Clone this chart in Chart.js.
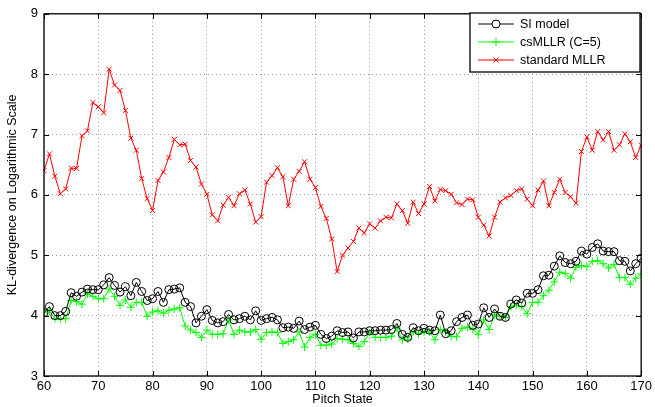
<!DOCTYPE html>
<html>
<head>
<meta charset="utf-8">
<script src="https://cdn.jsdelivr.net/npm/chart.js@4/dist/chart.umd.min.js"></script>
<style>
  html, body { margin: 0; padding: 0; background: #fff; }
  canvas { display: block; }
</style>
</head>
<body>
<canvas id="klChart" width="655" height="407"></canvas>
<script>
// pitch states on the x axis
const pitchStates = [
  60, 61, 62, 63, 64, 65, 66, 67, 68, 69,
  70, 71, 72, 73, 74, 75, 76, 77, 78, 79,
  80, 81, 82, 83, 84, 85, 86, 87, 88, 89,
  90, 91, 92, 93, 94, 95, 96, 97, 98, 99,
  100, 101, 102, 103, 104, 105, 106, 107, 108, 109,
  110, 111, 112, 113, 114, 115, 116, 117, 118, 119,
  120, 121, 122, 123, 124, 125, 126, 127, 128, 129,
  130, 131, 132, 133, 134, 135, 136, 137, 138, 139,
  140, 141, 142, 143, 144, 145, 146, 147, 148, 149,
  150, 151, 152, 153, 154, 155, 156, 157, 158, 159,
  160, 161, 162, 163, 164, 165, 166, 167, 168, 169,
  170
];

const siModel = [
  4.05, 4.15, 4.00, 4.00, 4.07, 4.38, 4.32, 4.39, 4.44, 4.43,
  4.43, 4.51, 4.63, 4.50, 4.39, 4.48, 4.33, 4.55, 4.40, 4.25,
  4.28, 4.40, 4.22, 4.43, 4.44, 4.46, 4.22, 4.15, 3.88, 3.99,
  4.10, 3.92, 3.88, 3.90, 4.02, 3.93, 3.95, 3.99, 3.93, 4.08,
  3.92, 3.95, 3.97, 3.93, 3.80, 3.81, 3.79, 3.91, 3.77, 3.81,
  3.84, 3.69, 3.62, 3.66, 3.75, 3.72, 3.73, 3.63, 3.73, 3.73,
  3.75, 3.75, 3.76, 3.76, 3.77, 3.87, 3.69, 3.64, 3.80, 3.75,
  3.79, 3.76, 3.75, 4.01, 3.70, 3.75, 3.90, 3.97, 4.01, 3.84,
  3.86, 4.13, 3.97, 4.11, 3.99, 3.97, 4.19, 4.26, 4.21, 4.37,
  4.37, 4.43, 4.66, 4.67, 4.82, 4.99, 4.88, 4.86, 4.90, 5.07,
  5.02, 5.13, 5.19, 5.07, 5.06, 5.06, 4.91, 4.90, 4.74, 4.86,
  4.95
];

const csMLLR = [
  4.05, 4.08, 3.95, 3.95, 3.95, 4.25, 4.23, 4.19, 4.36, 4.32,
  4.28, 4.28, 4.44, 4.32, 4.17, 4.26, 4.14, 4.22, 4.22, 3.99,
  4.06, 4.08, 4.04, 4.09, 4.11, 4.13, 3.83, 3.76, 3.72, 3.64,
  3.76, 3.69, 3.69, 3.70, 3.93, 3.69, 3.76, 3.73, 3.73, 3.77,
  3.61, 3.72, 3.73, 3.72, 3.54, 3.57, 3.60, 3.73, 3.48, 3.64,
  3.69, 3.51, 3.51, 3.53, 3.62, 3.61, 3.60, 3.54, 3.49, 3.57,
  3.72, 3.64, 3.64, 3.64, 3.66, 3.79, 3.60, 3.61, 3.73, 3.70,
  3.73, 3.73, 3.60, 3.77, 3.73, 3.66, 3.65, 3.79, 3.81, 3.77,
  3.69, 3.93, 3.77, 4.01, 3.99, 3.97, 4.15, 4.17, 4.15, 4.03,
  4.22, 4.22, 4.33, 4.42, 4.56, 4.72, 4.70, 4.62, 4.80, 4.83,
  4.81, 4.90, 4.91, 4.86, 4.79, 4.85, 4.63, 4.63, 4.52, 4.62,
  4.69
];

const standardMLLR = [
  6.40, 6.68, 6.31, 6.02, 6.10, 6.44, 6.44, 6.98, 7.06, 7.53,
  7.46, 7.36, 8.08, 7.82, 7.73, 7.40, 6.94, 6.74, 6.27, 5.94,
  5.74, 6.24, 6.38, 6.62, 6.92, 6.83, 6.84, 6.57, 6.46, 6.18,
  6.01, 5.67, 5.57, 5.83, 5.96, 5.82, 6.02, 6.08, 5.85, 5.55,
  5.64, 6.21, 6.32, 6.45, 6.30, 5.82, 6.26, 6.39, 6.55, 6.26,
  6.12, 5.81, 5.61, 5.27, 4.73, 5.00, 5.12, 5.23, 5.45, 5.37,
  5.52, 5.45, 5.57, 5.63, 5.62, 5.85, 5.74, 5.53, 5.88, 5.69,
  5.85, 6.14, 5.90, 6.09, 6.07, 6.01, 5.87, 5.84, 5.93, 5.92,
  5.63, 5.50, 5.32, 5.63, 5.88, 5.95, 5.99, 6.07, 6.10, 5.93,
  5.82, 6.08, 6.23, 5.82, 6.04, 6.26, 6.04, 5.97, 5.86, 6.72,
  6.96, 6.74, 7.05, 6.91, 7.05, 6.74, 6.83, 7.01, 6.88, 6.62,
  6.82
];

const seriesNames = ['SI model', 'csMLLR (C=5)', 'standard MLLR'];
const xTicks = [60, 70, 80, 90, 100, 110, 120, 130, 140, 150, 160, 170];
const yTicks = [3, 4, 5, 6, 7, 8, 9];

const FONT = '"Liberation Sans", Arial, sans-serif';

function toPoints(values) {
  return values.map((v, i) => ({ x: pitchStates[i], y: v }));
}

// MATLAB style frame, inward ticks and boxed legend
const matlabFrame = {
  id: 'matlabFrame',
  afterDraw(chart) {
    const ctx = chart.ctx;
    const a = chart.chartArea;
    const xs = chart.scales.x;
    const ys = chart.scales.y;
    ctx.save();
    ctx.strokeStyle = '#000';
    ctx.lineWidth = 1.3;
    ctx.strokeRect(a.left, a.top, a.right - a.left, a.bottom - a.top);

    ctx.lineWidth = 1;
    ctx.beginPath();
    xTicks.forEach(v => {
      const px = Math.round(xs.getPixelForValue(v)) + 0.5;
      ctx.moveTo(px, a.bottom); ctx.lineTo(px, a.bottom - 5);
      ctx.moveTo(px, a.top); ctx.lineTo(px, a.top + 5);
    });
    yTicks.forEach(v => {
      const py = Math.round(ys.getPixelForValue(v)) + 0.5;
      ctx.moveTo(a.left, py); ctx.lineTo(a.left + 5, py);
      ctx.moveTo(a.right, py); ctx.lineTo(a.right - 5, py);
    });
    ctx.stroke();

    // legend
    const lx = 470, ly = 13, lw = 170, lh = 59;
    ctx.fillStyle = '#fff';
    ctx.fillRect(lx, ly, lw, lh);
    ctx.strokeStyle = '#000';
    ctx.lineWidth = 1.3;
    ctx.strokeRect(lx, ly, lw, lh);
    ctx.font = '12.5px ' + FONT;
    ctx.textBaseline = 'middle';
    chart.data.datasets.forEach((ds, i) => {
      const cy = ly + 11 + i * 18;
      ctx.strokeStyle = ds.borderColor;
      ctx.lineWidth = 1;
      ctx.beginPath();
      ctx.moveTo(lx + 8, cy); ctx.lineTo(lx + 44, cy);
      ctx.stroke();
      Chart.helpers.drawPoint(ctx, {
        pointStyle: ds.pointStyle,
        radius: ds.pointRadius,
        borderWidth: 1
      }, lx + 26, cy);
      ctx.fillStyle = '#000';
      ctx.fillText(ds.label, lx + 50, cy + 1);
    });
    ctx.restore();
  }
};

const ctx = document.getElementById('klChart').getContext('2d');
const klChart = new Chart(ctx, {
  type: 'line',
  data: {
    datasets: [
      {
        label: seriesNames[0],
        data: toPoints(siModel),
        borderColor: '#000000',
        backgroundColor: 'rgba(0,0,0,0)',
        borderWidth: 1,
        pointStyle: 'circle',
        pointRadius: 4,
        pointBorderWidth: 1,
        pointBorderColor: '#000000',
        pointBackgroundColor: 'rgba(0,0,0,0)'
      },
      {
        label: seriesNames[1],
        data: toPoints(csMLLR),
        borderColor: '#00ff00',
        backgroundColor: 'rgba(0,0,0,0)',
        borderWidth: 1,
        pointStyle: 'cross',
        pointRadius: 4,
        pointBorderWidth: 1,
        pointBorderColor: '#00ff00'
      },
      {
        label: seriesNames[2],
        data: toPoints(standardMLLR),
        borderColor: '#ff0000',
        backgroundColor: 'rgba(0,0,0,0)',
        borderWidth: 1,
        pointStyle: 'crossRot',
        pointRadius: 3.5,
        pointBorderWidth: 1,
        pointBorderColor: '#ff0000'
      }
    ]
  },
  options: {
    responsive: false,
    animation: false,
    layout: { padding: { top: 11, right: 13, left: 0, bottom: 0 } },
    plugins: {
      legend: { display: false },
      tooltip: { enabled: false }
    },
    scales: {
      x: {
        type: 'linear',
        min: 60,
        max: 170,
        afterBuildTicks: s => { s.ticks = xTicks.map(v => ({ value: v })); },
        afterFit: s => { s.height = 31; },
        grid: { color: '#9a9a9a', lineWidth: 1, drawTicks: false },
        border: { display: false, dash: [1, 3] },
        ticks: {
          color: '#000',
          padding: 3,
          maxRotation: 0,
          font: { family: FONT, size: 13 }
        },
        title: {
          display: true,
          text: 'Pitch State',
          color: '#000',
          padding: { top: 1, bottom: 0 },
          font: { family: FONT, size: 12.5 }
        }
      },
      y: {
        min: 3,
        max: 9,
        afterBuildTicks: s => { s.ticks = yTicks.map(v => ({ value: v })); },
        afterFit: s => { s.width = 44; },
        grid: { color: '#9a9a9a', lineWidth: 1, drawTicks: false },
        border: { display: false, dash: [1, 3] },
        ticks: {
          color: '#000',
          padding: 6,
          font: { family: FONT, size: 13 }
        },
        title: {
          display: true,
          text: 'KL-divergence on Logarithmic Scale',
          color: '#000',
          padding: { top: 5, bottom: 3 },
          font: { family: FONT, size: 12.5 }
        }
      }
    }
  },
  plugins: [matlabFrame]
});
</script>
</body>
</html>
